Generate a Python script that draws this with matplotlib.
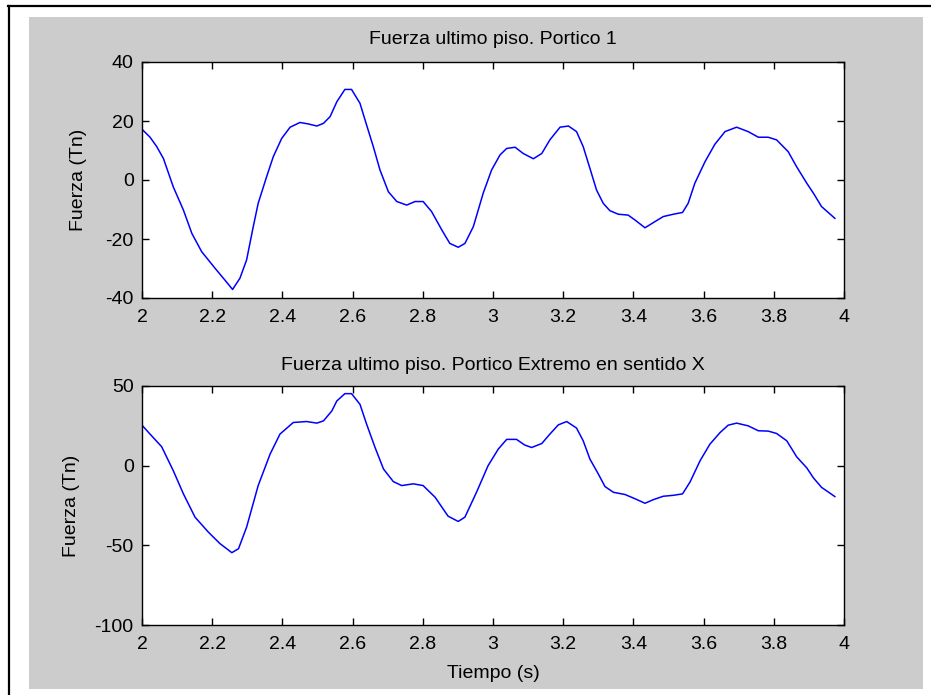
import matplotlib
matplotlib.use("Agg")
import matplotlib.pyplot as plt
from matplotlib.patches import Rectangle
from matplotlib.lines import Line2D

# values
time_top = [2.000, 2.023, 2.042, 2.061, 2.089, 2.118, 2.142, 2.170, 2.208, 2.236,
            2.258, 2.279, 2.298, 2.317, 2.331, 2.355, 2.374, 2.398, 2.422, 2.450,
            2.474, 2.498, 2.517, 2.536, 2.555, 2.578, 2.597, 2.621, 2.640, 2.659,
            2.678, 2.702, 2.726, 2.754, 2.778, 2.801, 2.825, 2.854, 2.877, 2.901,
            2.920, 2.944, 2.972, 2.996, 3.020, 3.039, 3.063, 3.086, 3.115, 3.139,
            3.162, 3.191, 3.215, 3.238, 3.257, 3.276, 3.295, 3.314, 3.333, 3.357,
            3.385, 3.405, 3.433, 3.456, 3.485, 3.514, 3.540, 3.556, 3.575, 3.604,
            3.632, 3.661, 3.694, 3.727, 3.756, 3.784, 3.808, 3.841, 3.865, 3.894,
            3.913, 3.936, 3.974]
fuerza_top = [17.2, 14.5, 11.3, 7.3, -2.3, -10.2, -18.1, -24.3, -29.9, -33.9,
              -37.1, -33.3, -27.1, -15.8, -7.9, 1.1, 7.9, 14.1, 17.9, 19.5,
              19.0, 18.3, 19.2, 21.5, 26.5, 30.7, 30.7, 26.0, 18.6, 11.3,
              3.4, -4.0, -7.3, -8.5, -7.3, -7.3, -10.7, -16.9, -21.5, -22.8,
              -21.5, -15.8, -4.5, 3.4, 8.5, 10.7, 11.1, 9.0, 7.2, 9.0,
              13.6, 17.9, 18.3, 16.4, 11.3, 4.0, -3.4, -7.9, -10.4, -11.6,
              -11.9, -13.6, -16.2, -14.5, -12.4, -11.6, -11.0, -7.9, -1.1, 6.2,
              12.1, 16.4, 17.9, 16.4, 14.5, 14.5, 13.6, 9.6, 4.5, -1.1,
              -4.5, -9.0, -13.0]

time_bot = [2.000, 2.023, 2.056, 2.089, 2.118, 2.151, 2.189, 2.222, 2.256, 2.275,
            2.298, 2.331, 2.365, 2.393, 2.431, 2.469, 2.498, 2.517, 2.541, 2.555,
            2.578, 2.597, 2.621, 2.640, 2.664, 2.688, 2.716, 2.740, 2.773, 2.801,
            2.835, 2.872, 2.901, 2.920, 2.953, 2.986, 3.015, 3.039, 3.067, 3.090,
            3.110, 3.139, 3.162, 3.186, 3.210, 3.238, 3.257, 3.276, 3.300, 3.319,
            3.343, 3.376, 3.405, 3.433, 3.456, 3.485, 3.514, 3.540, 3.561, 3.590,
            3.618, 3.647, 3.670, 3.694, 3.727, 3.756, 3.784, 3.808, 3.837, 3.865,
            3.894, 3.913, 3.936, 3.974]
fuerza_bot = [25.4, 19.8, 11.9, -3.1, -17.7, -32.3, -41.7, -48.9, -54.6, -52.1,
              -38.6, -12.5, 7.3, 19.8, 27.1, 27.7, 26.7, 28.1, 34.4, 40.6,
              45.2, 45.2, 38.5, 26.0, 11.4, -2.1, -10.0, -12.5, -11.4, -12.5,
              -19.8, -31.7, -35.0, -32.3, -16.7, 0.0, 10.4, 16.5, 16.5, 13.0,
              11.4, 13.9, 19.8, 25.6, 27.7, 23.6, 15.6, 4.2, -5.2, -13.1,
              -16.7, -18.1, -20.8, -23.6, -21.4, -19.2, -18.6, -17.7, -10.4, 3.1,
              13.5, 20.8, 25.4, 26.7, 25.0, 21.9, 21.7, 20.2, 15.6, 5.6,
              -1.4, -7.7, -13.6, -19.4]

x_ticks = [2, 2.2, 2.4, 2.6, 2.8, 3, 3.2, 3.4, 3.6, 3.8, 4]
x_tick_labels = ["2", "2.2", "2.4", "2.6", "2.8", "3", "3.2", "3.4", "3.6", "3.8", "4"]
y_ticks_top = [-40, -20, 0, 20, 40]
y_ticks_bot = [-100, -50, 0, 50]

plt.rcParams["font.family"] = ["Liberation Sans", "DejaVu Sans"]
plt.rcParams["font.size"] = 14

W, H = 931, 695
fig = plt.figure(figsize=(W / 100, H / 100), dpi=100, facecolor="white")

# gray figure area and black frame lines (behind the axes)
fig.patches.append(Rectangle((29 / W, 1 - 689 / H), (923 - 29) / W, (689 - 17) / H,
                             transform=fig.transFigure, facecolor="#cccccc",
                             edgecolor="none", zorder=-10))
fig.lines.append(Line2D([8 / W, 1], [1 - 6 / H, 1 - 6 / H], transform=fig.transFigure,
                        color="black", linewidth=1.6, zorder=-10))
fig.lines.append(Line2D([9 / W, 9 / W], [0, 1 - 6 / H], transform=fig.transFigure,
                        color="black", linewidth=1.6, zorder=-10))

ax1 = fig.add_axes([142 / W, 1 - 298 / H, (844 - 142) / W, (298 - 62) / H])
ax2 = fig.add_axes([142 / W, 1 - 625 / H, (844 - 142) / W, (625 - 386) / H])


def style(ax, yticks):
    ax.set_xlim(2, 4)
    ax.set_ylim(yticks[0], yticks[-1])
    ax.set_xticks(x_ticks)
    ax.set_xticklabels(x_tick_labels)
    ax.set_yticks(yticks)
    ax.set_yticklabels([str(v) for v in yticks])
    ax.tick_params(direction="in", length=5, width=1, top=True, right=True,
                   labelsize=14)
    ax.tick_params(axis="x", pad=8)
    ax.tick_params(axis="y", pad=6)
    for s in ax.spines.values():
        s.set_linewidth(1.0)
    ax.set_facecolor("white")


ax1.plot(time_top, fuerza_top, color="#0000ff", linewidth=1.1)
style(ax1, y_ticks_top)
ax1.set_title("Fuerza ultimo piso. Portico 1", fontsize=14, pad=13)
ax1.set_ylabel("Fuerza (Tn)")
ax1.yaxis.set_label_coords((87 - 142) / 702, 0.5)

ax2.plot(time_bot, fuerza_bot, color="#0000ff", linewidth=1.1)
style(ax2, y_ticks_bot)
ax2.set_title("Fuerza ultimo piso. Portico Extremo en sentido X", fontsize=14, pad=11.5)
ax2.set_ylabel("Fuerza (Tn)")
ax2.yaxis.set_label_coords((80 - 142) / 702, 0.5)
ax2.set_xlabel("Tiempo (s)")
ax2.xaxis.set_label_coords(0.5, -(665 - 625) / 239)

fig.savefig("out.png", dpi=100, facecolor="white")
